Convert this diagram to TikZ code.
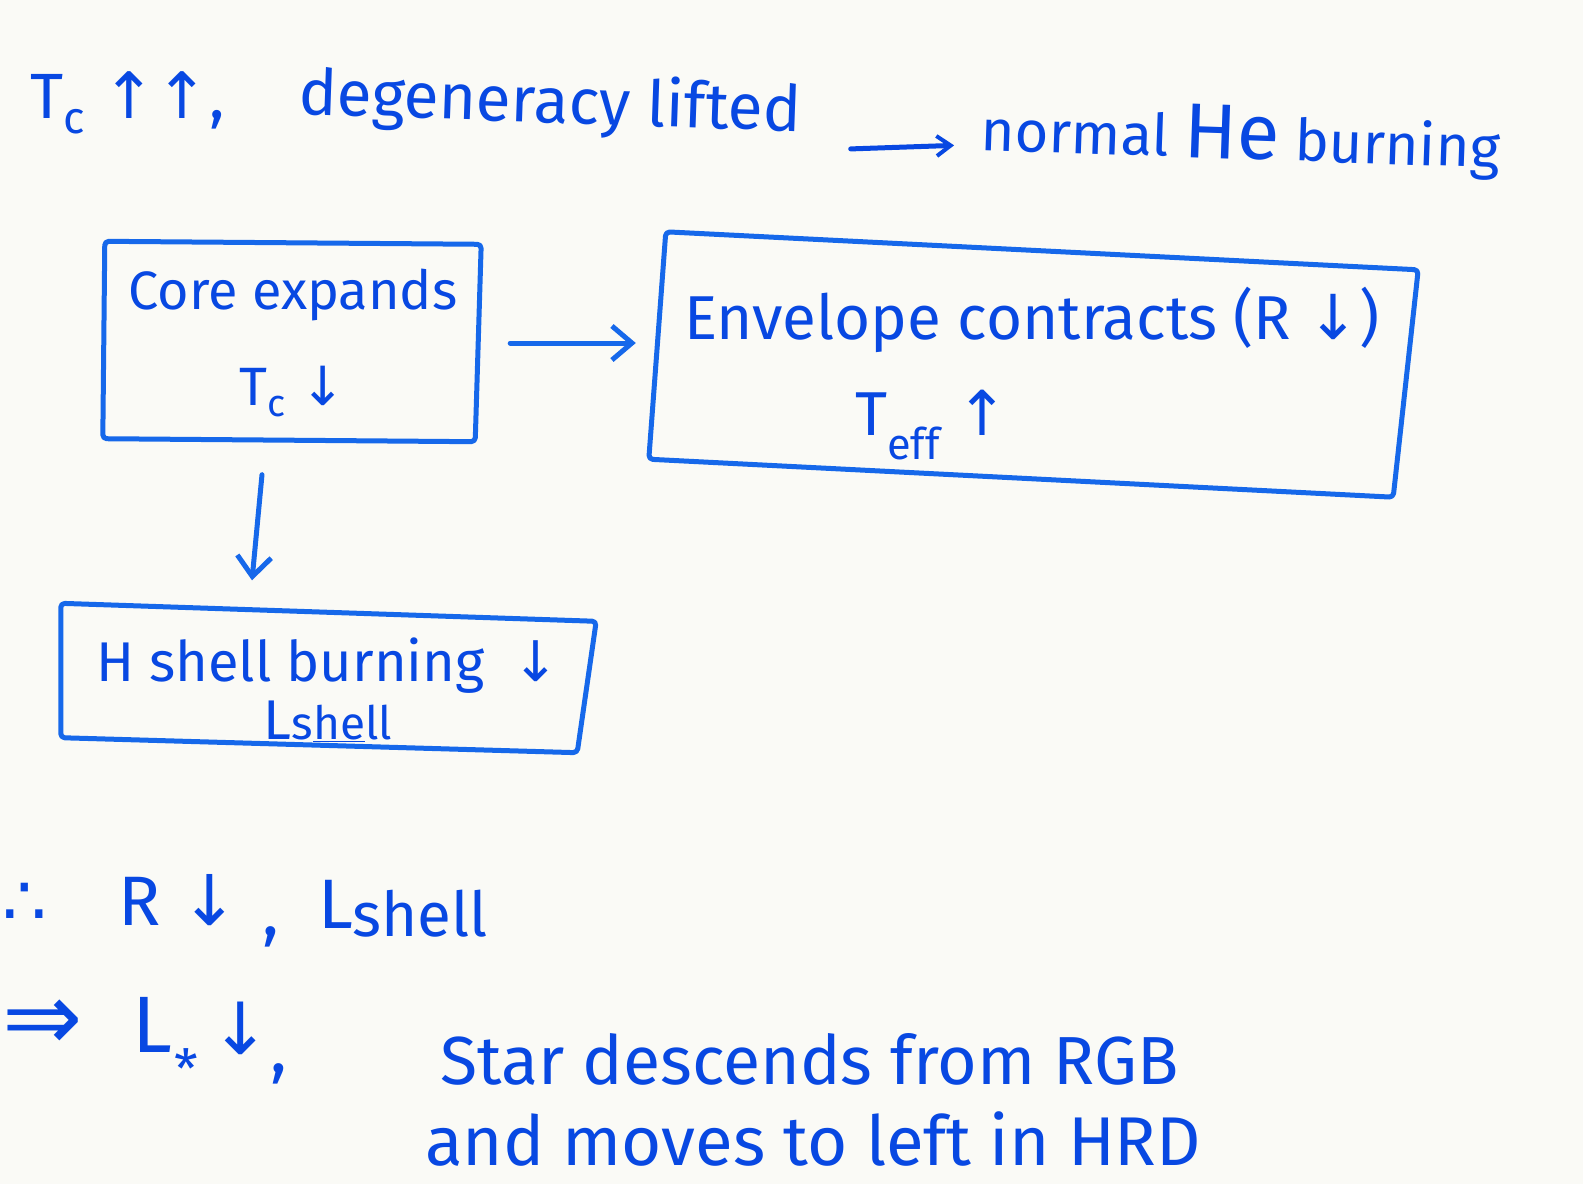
\documentclass[tikz,border=0pt]{standalone}
\usepackage{fontspec}
\setmainfont{Fira Sans}
\newfontfamily\sym{DejaVu Sans}
\usetikzlibrary{arrows.meta,calc}
\definecolor{ink}{RGB}{8,72,226}
\definecolor{pen}{RGB}{22,104,234}
\definecolor{paper}{RGB}{250,250,246}
\tikzset{
  txt/.style={text=ink, inner sep=0pt, anchor=base west, font=\fontsize{64}{72}\selectfont},
  frame/.style={inner sep=0pt, text=ink, align=center},
  boxline/.style={draw=pen, line width=5pt, line join=round, rounded corners=4pt},
  arr/.style={draw=pen, line width=5pt, line cap=round,
    -{Straight Barb[length=20pt,width=34pt,line width=5pt]}},
  smallarr/.style={draw=ink, line width=5pt, line cap=round,
    -{Straight Barb[length=14pt,width=20pt,line width=4pt]}}
}
\begin{document}
\begin{tikzpicture}[x=1pt,y=-1pt]
\fill[paper] (0,0) rectangle (1583,1184);
\useasboundingbox (0,0) rectangle (1583,1184);

% heading line
\node[txt] (tc) at (30,118) {T\textsubscript{c} {\sym ↑↑},};
\node[txt, rotate=-2] (deg) at (298,114) {degeneracy lifted};
\node[txt, rotate=-2, font=\fontsize{58}{64}\selectfont] (norm) at (980,150)
  {normal {\fontsize{78}{80}\selectfont He} burning};
\draw[smallarr] ($(deg.mid east)+(50,20)$) -- ($(norm.mid west)+(-26,-2)$);

% boxes
\node[frame, font=\fontsize{54}{64}\selectfont, minimum width=380pt, minimum height=203pt] (core) at (293,343)
  {Core expands\\[32pt]T\textsubscript{c} {\sym ↓}};
\draw[boxline] ($(core.north west)+(2,0)$) -- ($(core.north east)+(-2,3)$)
  -- ($(core.south east)+(-8,-3)$) -- ($(core.south west)+(0,-6)$) -- cycle;

\node[frame, font=\fontsize{62}{72}\selectfont, minimum width=760pt, minimum height=230pt] (env) at (1032,374)
  {Envelope contracts (R {\sym ↓})\\[24pt]\hspace*{-200pt}T\textsubscript{eff} {\sym ↑}};
\draw[boxline] ($(env.north west)+(14,-27)$) -- ($(env.north east)+(6,11)$)
  -- ($(env.south east)+(-19,8)$) -- ($(env.south west)+(-3,-30)$) -- cycle;

\node[frame, font=\fontsize{56}{64}\selectfont, minimum width=536pt, minimum height=145pt] (hsh) at (328,690)
  {H shell burning\hspace{28pt}{\sym ↓}\\[-6pt]L{\fontsize{46}{50}\selectfont s\underline{he}ll}};
\draw[boxline] ($(hsh.north west)+(1,-14)$) -- ($(hsh.north east)+(0,4)$)
  -- ($(hsh.south east)+(-19,-10)$) -- ($(hsh.south west)+(1,-25)$) -- cycle;

% connectors between boxes
\draw[arr, shorten <=27pt, shorten >=16pt] (core.east) -- (env.west |- core.east);
\draw[arr] ($(core.south)+(-31,30)$) -- ($(hsh.north)+(-76,-37)$);

% conclusions
\node[txt, font=\fontsize{70}{80}\selectfont] (thf) at (2,925) {\sym ∴};
\node[txt, font=\fontsize{70}{80}\selectfont] (rr) at (118,925) {R};
\node[txt, font=\fontsize{70}{80}\selectfont] (rdn) at (180,925) {\sym ↓};
\node[txt, font=\fontsize{70}{80}\selectfont] (c1) at (262,935) {,};
\node[txt, font=\fontsize{70}{80}\selectfont] (ls) at (318,928) {L};
\node[txt, font=\fontsize{62}{70}\selectfont] (shl) at (352,936) {shell};

\node[txt, font=\fontsize{96}{100}\selectfont] (imp) at (2,1050) {\sym ⇒};
\node[txt, font=\fontsize{80}{90}\selectfont] (lst) at (132,1052) {L};
\node[txt, font=\fontsize{54}{60}\selectfont] (ast) at (174,1088) {*};
\node[txt, font=\fontsize{72}{80}\selectfont] (ldn) at (210,1054) {\sym ↓};
\node[txt, font=\fontsize{70}{80}\selectfont] (c2) at (270,1072) {,};
\node[txt, font=\fontsize{68}{72}\selectfont] (star) at (440,1084)
  {Star descends from RGB};
\node[txt, font=\fontsize{69}{72}\selectfont] (hrd) at (425,1165)
  {and moves to left in HRD};
\end{tikzpicture}
\end{document}
